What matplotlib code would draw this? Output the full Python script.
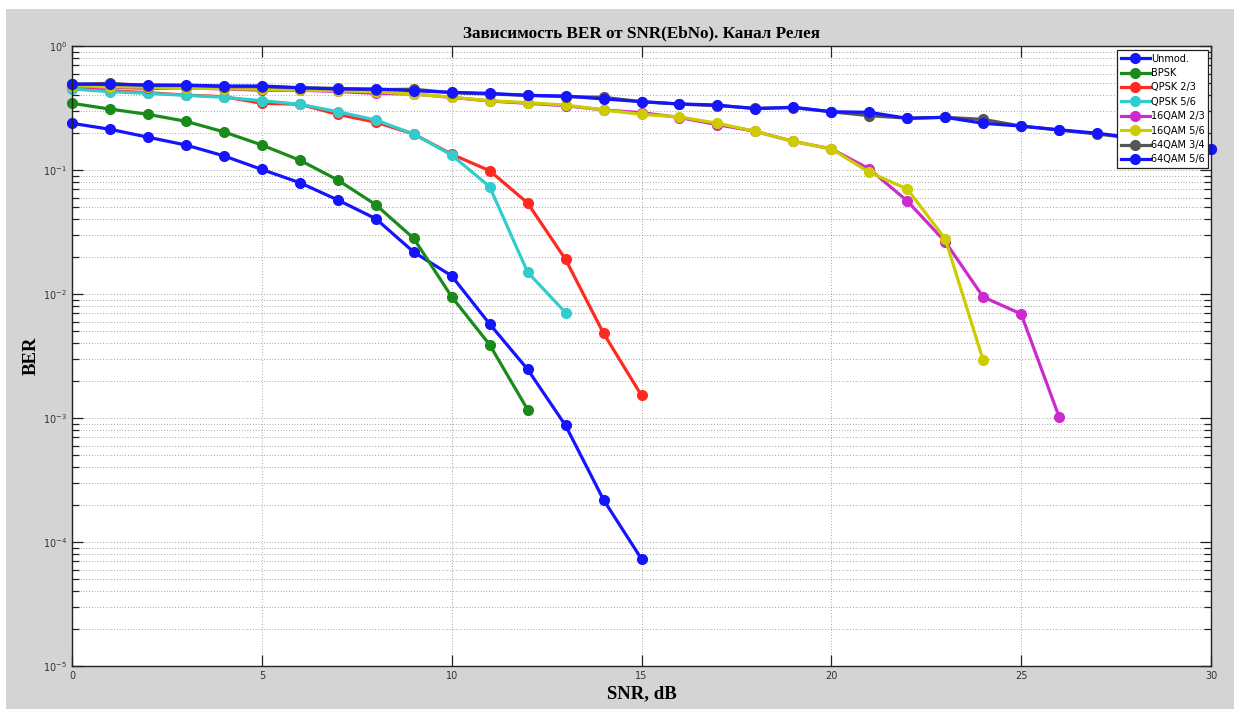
import matplotlib
matplotlib.use("Agg")
import matplotlib.pyplot as plt
from matplotlib.patches import Rectangle
from matplotlib.ticker import LogLocator, FixedLocator, NullFormatter
import numpy as np

# BER values (SNR step 1 dB)
snr = np.arange(0, 31)

ber_unmod = [0.238, 0.213, 0.184, 0.159, 0.130, 0.101, 0.079, 0.0573, 0.0405, 0.0218,
             0.0140, 0.00573, 0.00247, 0.00087, 0.000219, 0.000073]
ber_bpsk = [0.345, 0.310, 0.281, 0.247, 0.203, 0.159, 0.120, 0.083, 0.0525, 0.0281,
            0.0095, 0.0039, 0.00117]
ber_qpsk23 = [0.458, 0.436, 0.420, 0.402, 0.390, 0.345, 0.339, 0.281, 0.243, 0.195,
              0.134, 0.0987, 0.0542, 0.0190, 0.00482, 0.00152]
ber_qpsk56 = [0.450, 0.428, 0.415, 0.400, 0.386, 0.362, 0.339, 0.295, 0.253, 0.195,
              0.132, 0.0733, 0.0150, 0.00707]
ber_16qam23 = [0.475, 0.465, 0.455, 0.460, 0.450, 0.440, 0.440, 0.430, 0.415, 0.410,
               0.385, 0.360, 0.345, 0.330, 0.305, 0.290, 0.265, 0.232, 0.205, 0.170,
               0.148, 0.102, 0.0562, 0.0264, 0.00946, 0.0069, 0.00102]
ber_16qam56 = [0.478, 0.470, 0.465, 0.458, 0.454, 0.448, 0.442, 0.436, 0.426, 0.410,
               0.386, 0.362, 0.349, 0.334, 0.305, 0.281, 0.268, 0.238, 0.205, 0.170,
               0.148, 0.0958, 0.0703, 0.0278, 0.00292]
ber_64qam34 = [0.490, 0.500, 0.480, 0.480, 0.470, 0.470, 0.460, 0.455, 0.445, 0.448,
               0.420, 0.410, 0.400, 0.390, 0.386, 0.355, 0.340, 0.330, 0.315, 0.318,
               0.295, 0.274, 0.262, 0.266, 0.256, 0.226, 0.210, 0.195, 0.180, 0.163, 0.148]
ber_64qam56 = [0.494, 0.490, 0.485, 0.483, 0.476, 0.476, 0.461, 0.450, 0.450, 0.436,
               0.423, 0.415, 0.400, 0.395, 0.374, 0.356, 0.341, 0.334, 0.312, 0.321,
               0.295, 0.292, 0.261, 0.266, 0.238, 0.226, 0.211, 0.198, 0.181, 0.165, 0.148]

series = [
    ("Unmod.", ber_unmod, "#1414ff"),
    ("BPSK", ber_bpsk, "#1a8a1a"),
    ("QPSK 2/3", ber_qpsk23, "#ff2a1f"),
    ("QPSK 5/6", ber_qpsk56, "#33cccc"),
    ("16QAM 2/3", ber_16qam23, "#cc2acc"),
    ("16QAM 5/6", ber_16qam56, "#cccc00"),
    ("64QAM 3/4", ber_64qam34, "#555555"),
    ("64QAM 5/6", ber_64qam56, "#1414ff"),
]

fig = plt.figure(figsize=(12.34, 7.09), dpi=100, facecolor="white")
# matlab-like gray figure background
fig.patches.append(Rectangle((6 / 1234, 0), 1.0, 1 - 9 / 709, transform=fig.transFigure,
                             facecolor="#d4d4d4", edgecolor="none", zorder=-10))

ax = fig.add_axes([72 / 1234, 1 - 666 / 709, (1211 - 72) / 1234, (666 - 46) / 709])
ax.set_facecolor("white")

for name, vals, col in series:
    ax.plot(snr[:len(vals)], vals, "-o", color=col, lw=2.3, ms=7, label=name,
            clip_on=False)

ax.set_yscale("log")
ax.set_xlim(0, 30)
ax.set_ylim(1e-5, 1)
ax.xaxis.set_major_locator(FixedLocator([0, 5, 10, 15, 20, 25, 30]))
ax.yaxis.set_major_locator(LogLocator(base=10, numticks=10))
ax.yaxis.set_minor_locator(LogLocator(base=10, subs=np.arange(2, 10), numticks=20))
ax.yaxis.set_minor_formatter(NullFormatter())

ax.grid(True, which="major", ls=(0, (1, 3)), color="#555555", lw=0.5)
ax.grid(True, which="minor", axis="y", ls=(0, (1, 3)), color="#555555", lw=0.5)

ax.tick_params(which="both", direction="in", top=True, right=True, labelsize=7,
               labelcolor="#333333", color="#222222")
ax.tick_params(which="major", length=8, width=0.9)
ax.tick_params(which="minor", length=5, width=0.9)
for s in ax.spines.values():
    s.set_color("#222222")
    s.set_linewidth(1.0)

serif = ["Liberation Serif", "DejaVu Serif"]
ax.set_title("Зависимость BER от SNR(EbNo). Канал Релея", family=serif,
             fontweight="bold", fontsize=12.3, pad=6)
ax.set_xlabel("SNR, dB", family=serif, fontweight="bold", fontsize=13.5, labelpad=3)
ax.set_ylabel("BER", family=serif, fontweight="bold", fontsize=13.5, labelpad=2)

leg = ax.legend(loc="upper right", bbox_to_anchor=(0.9975, 0.993), fontsize=7,
                frameon=True, fancybox=False, handlelength=3.0, handletextpad=0.1,
                borderpad=0.35, labelspacing=0.45, borderaxespad=0.0)
leg.get_frame().set_edgecolor("#222222")
leg.get_frame().set_linewidth(0.9)
leg.get_frame().set_alpha(1.0)

fig.savefig("out.png", dpi=100, facecolor=fig.get_facecolor())
